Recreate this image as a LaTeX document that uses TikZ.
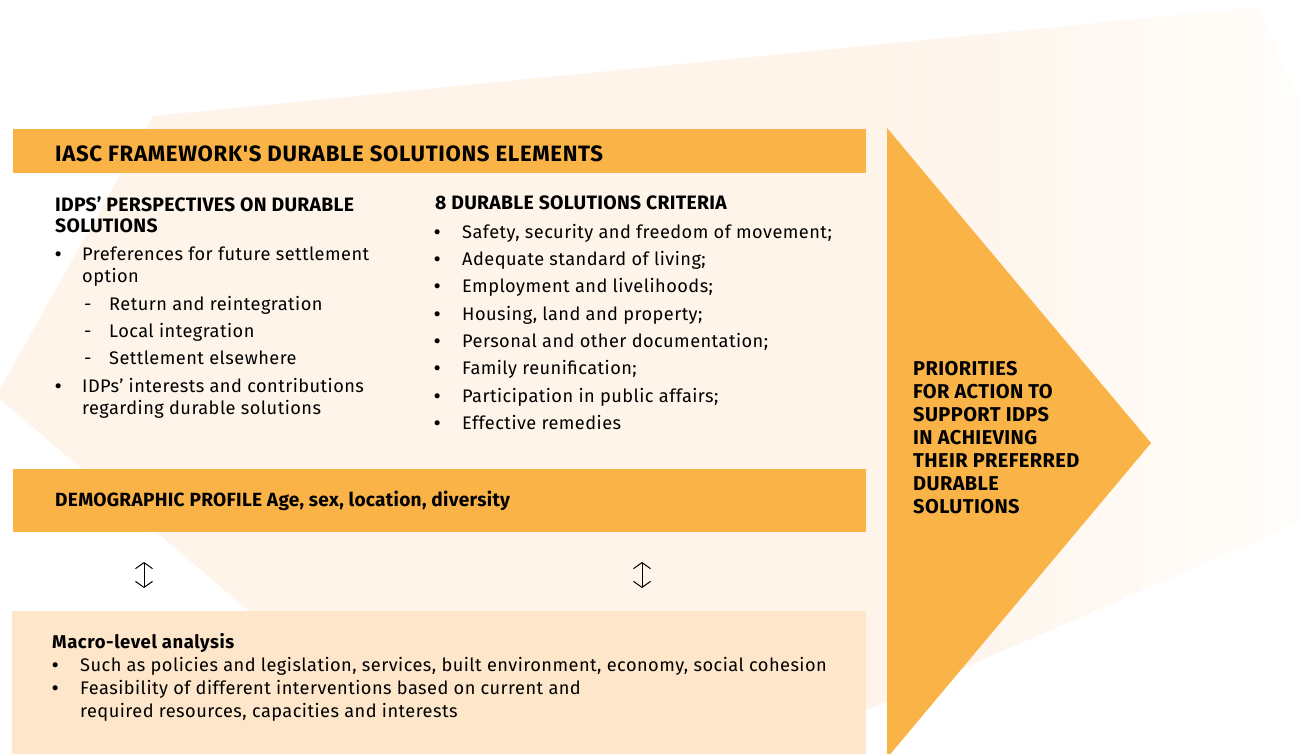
\documentclass[tikz,border=0pt]{standalone}
\usepackage{fontspec}
\setmainfont{Fira Sans}
\newfontfamily\lsbody[LetterSpace=2.5]{Fira Sans}
\newfontfamily\lssub[LetterSpace=1.5]{Fira Sans}
\newfontfamily\lshdr[LetterSpace=3]{Fira Sans}
\newfontfamily\lstri[LetterSpace=2]{Fira Sans}
\usetikzlibrary{arrows.meta}
\definecolor{orng}{HTML}{F9B347}
\definecolor{pale}{HTML}{FEF4EA}
\definecolor{paleend}{HTML}{FFFDFA}
\definecolor{macro}{HTML}{FDE6C9}
\tikzset{
  body/.style={anchor=base west, inner sep=0pt, font=\lsbody\fontsize{18.2}{21}\selectfont},
  bul/.style={anchor=base west, inner sep=0pt, font=\lsbody\fontsize{18.2}{21}\selectfont\bfseries},
  subhead/.style={anchor=base west, inner sep=0pt, font=\lssub\fontsize{19.4}{22}\selectfont\bfseries},
  bigbox/.style={fill=orng, anchor=north west, inner sep=0pt, minimum width=853pt},
  arr/.style={draw=black, line width=1pt, {Straight Barb[length=6pt,width=17pt]}-{Straight Barb[length=6pt,width=17pt]}},
}
\begin{document}
\begin{tikzpicture}[x=1pt,y=-1pt]
\useasboundingbox (0,0) rectangle (1300,753);
% pale background arrow
\begin{scope}
  \clip (0,0) rectangle (1300,753);
  \clip (153,116) -- (1258,7) -- (1300,103) -- (1300,522) -- (860,713) -- (535,854) -- (-4,396) -- cycle;
  \fill[pale] (0,0) rectangle (890,760);
  \shade[left color=pale, right color=paleend] (889,0) rectangle (1300,760);
\end{scope}
% boxes
\node[bigbox, minimum height=44pt] (hdr) at (13,129) {};
\node[bigbox, minimum height=63pt] (demo) at (13,469) {};
\node[fill=macro, anchor=north west, inner sep=0pt, minimum width=854pt, minimum height=150pt] (macrobox) at (12,611) {};
% triangle
\fill[orng] (887,128) -- (1151,443) -- (887,758) -- cycle;
\node[anchor=base west, inner sep=0pt, align=left, font=\lstri\fontsize{20}{22.9}\selectfont\bfseries] (prio) at (913,513) {PRIORITIES\\FOR ACTION TO\\SUPPORT IDPS\\IN ACHIEVING\\THEIR PREFERRED\\DURABLE\\SOLUTIONS};
% header text
\node[anchor=base west, inner sep=0pt, font=\lshdr\fontsize{22.2}{24}\selectfont\bfseries] (hdrt) at (55,161.7) {IASC FRAMEWORK'S DURABLE SOLUTIONS ELEMENTS};
% left column
\node[subhead] (lh1) at (55,211.7) {IDPS’ PERSPECTIVES ON DURABLE};
\node[subhead] (lh2) at (55,232.3) {SOLUTIONS};
\node[bul] (lb1) at (55,260) {•};
\node[body] (lt1) at (82,260) {Preferences for future settlement};
\node[body] (lt1b) at (82,282) {option};
\node[body] (ld1) at (84,310) {-};
\node[body] (ls1) at (109,310) {Return and reintegration};
\node[body] (ld2) at (84,337) {-};
\node[body] (ls2) at (109,337) {Local integration};
\node[body] (ld3) at (84,364) {-};
\node[body] (ls3) at (109,364) {Settlement elsewhere};
\node[bul] (lb2) at (55,392) {•};
\node[body] (lt2) at (82,392) {IDPs’ interests and contributions};
\node[body] (lt2b) at (82,414) {regarding durable solutions};
% right column
\node[subhead] (rh) at (435,209.5) {8 DURABLE SOLUTIONS CRITERIA};
\foreach \i/\yy/\txt in {1/238.3/{Safety, security and freedom of movement;},
  2/265.6/{Adequate standard of living;},
  3/292.9/{Employment and livelihoods;},
  4/320.2/{Housing, land and property;},
  5/347.5/{Personal and other documentation;},
  6/374.8/{Family reunification;},
  7/402.1/{Participation in public affairs;},
  8/429.4/{Effective remedies}}{
  \node[bul] (rb\i) at (434,\yy) {•};
  \node[body] (rt\i) at (462,\yy) {\txt};
}
% demographic text
\node[anchor=base west, inner sep=0pt, font=\lssub\fontsize{19.1}{22}\selectfont\bfseries] (demot) at (55,506.5) {DEMOGRAPHIC PROFILE Age, sex, location, diversity};
% arrows
\coordinate (a1t) at (144,562);
\coordinate (a1b) at (144,588);
\coordinate (a2t) at (642,562);
\coordinate (a2b) at (642,588);
\draw[arr] (a1t) -- (a1b);
\draw[arr] (a2t) -- (a2b);
% macro text
\node[anchor=base west, inner sep=0pt, font=\lshdr\fontsize{18.5}{20}\selectfont\bfseries] (mh) at (52,648) {Macro-level analysis};
\node[bul] (mb1) at (52,671) {•};
\node[body] (mt1) at (80,671) {Such as policies and legislation, services, built environment, economy, social cohesion};
\node[bul] (mb2) at (52,694) {•};
\node[body] (mt2) at (80,694) {Feasibility of different interventions based on current and};
\node[body] (mt2b) at (80,717) {required resources, capacities and interests};
\end{tikzpicture}
\end{document}
